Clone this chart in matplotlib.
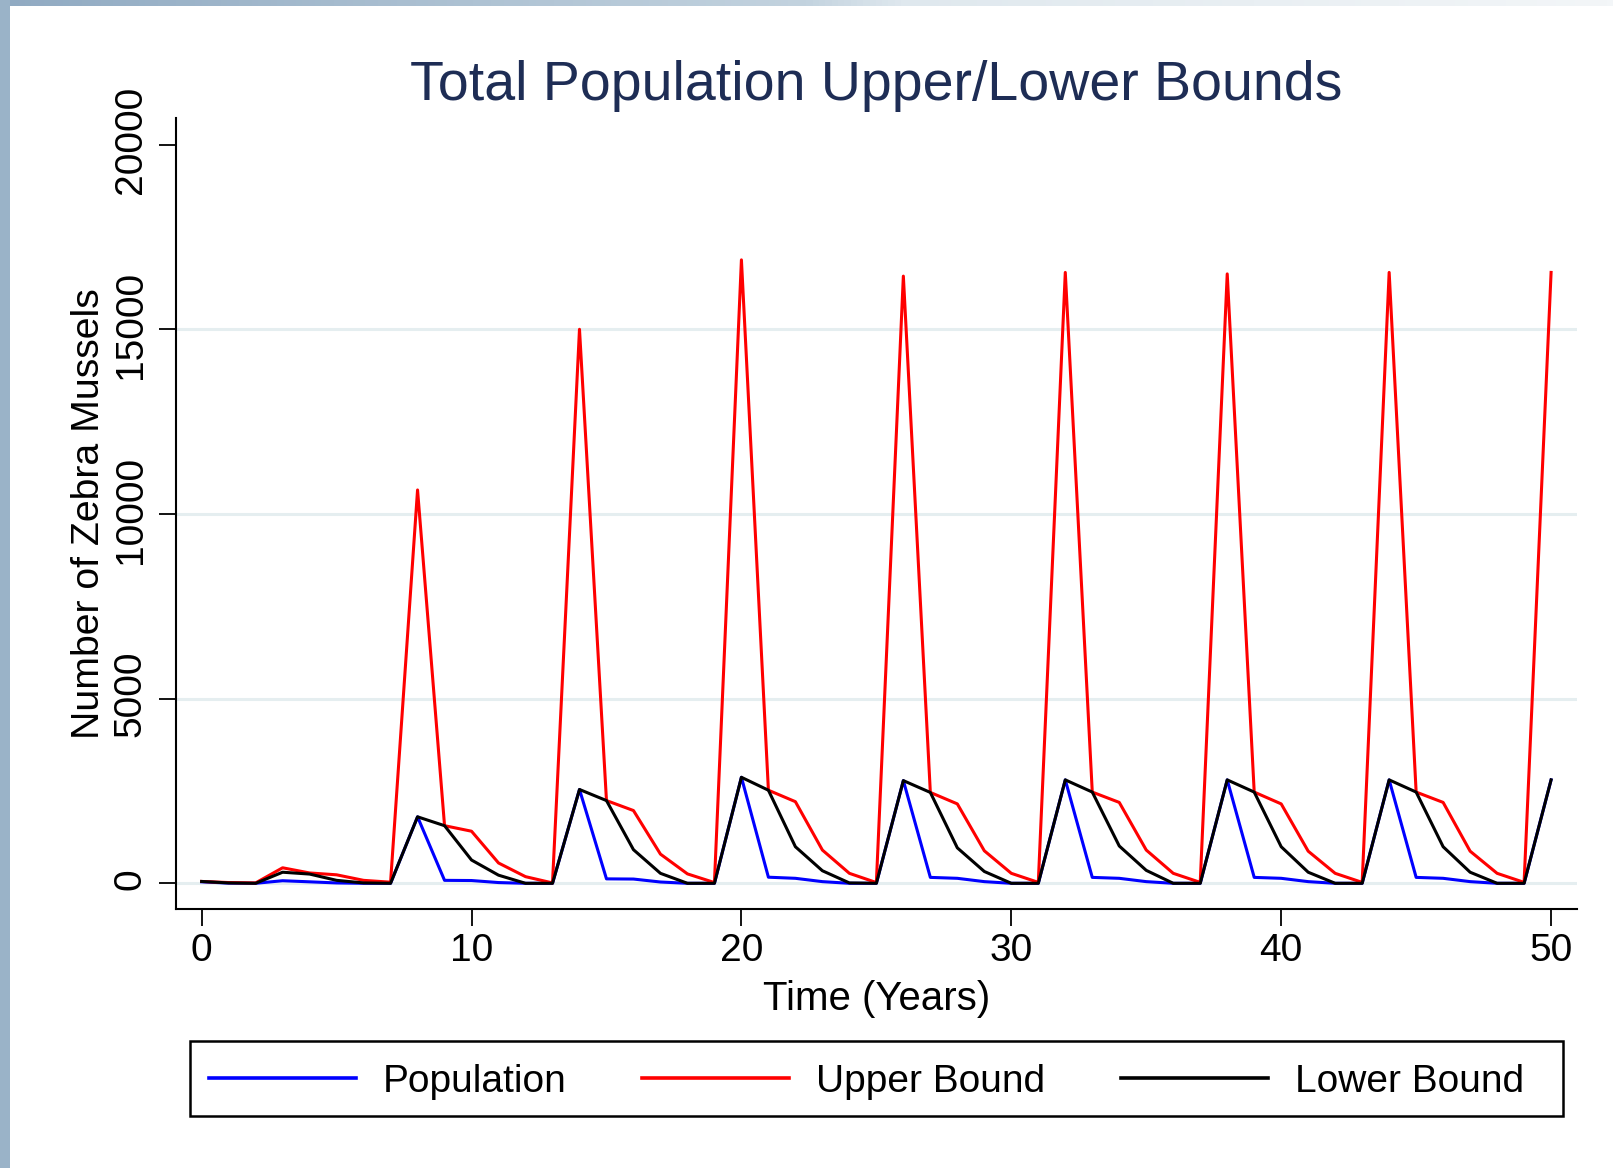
import numpy as np
import matplotlib
matplotlib.use("Agg")
import matplotlib.pyplot as plt
import matplotlib.transforms as mtransforms
from matplotlib.patches import Rectangle
from matplotlib.colors import LinearSegmentedColormap

# ---------------- data ----------------
years = list(range(0, 51))

population = [40, 5, 0, 70, 40, 10, 0, 0,
              1800, 80, 75, 20, 0, 0,
              2540, 120, 115, 35, 0, 0,
              2870, 165, 135, 45, 0, 0,
              2780, 160, 135, 45, 0, 0,
              2800, 160, 135, 45, 0, 0,
              2800, 160, 135, 45, 0, 0,
              2800, 160, 135, 45, 0, 0,
              2800]

upper_bound = [50, 20, 10, 420, 280, 230, 80, 30,
               10650, 1560, 1410, 550, 180, 10,
               15000, 2240, 1970, 790, 255, 20,
               16880, 2520, 2210, 900, 270, 20,
               16440, 2460, 2150, 880, 270, 25,
               16540, 2470, 2190, 900, 270, 25,
               16500, 2470, 2150, 870, 270, 25,
               16540, 2470, 2190, 870, 270, 25,
               16540]

lower_bound = [50, 10, 0, 300, 250, 80, 10, 0,
               1800, 1560, 630, 220, 0, 0,
               2540, 2240, 910, 270, 0, 0,
               2870, 2520, 990, 340, 10, 0,
               2780, 2460, 960, 320, 0, 0,
               2800, 2470, 1010, 350, 0, 0,
               2800, 2470, 990, 300, 0, 0,
               2800, 2470, 990, 300, 0, 0,
               2800]

x_ticks = [0, 10, 20, 30, 40, 50]
y_ticks = [0, 5000, 10000, 15000, 20000]
grid_values = [0, 5000, 10000, 15000]
series_labels = ["Population", "Upper Bound", "Lower Bound"]
series_colors = ["#0000ff", "#ff0000", "#000000"]
title_text = "Total Population Upper/Lower Bounds"
x_label = "Time (Years)"
y_label = "Number of Zebra Mussels"

# ---------------- style ----------------
plt.rcParams["font.family"] = ["Liberation Sans", "DejaVu Sans"]

W, H = 1613, 1168
fig = plt.figure(figsize=(W / 100, H / 100), dpi=100)
fig.patch.set_facecolor("white")

# decorative slide frame (left band + top gradient strip)
fig.patches.append(Rectangle((0, 0), 10 / W, 1, transform=fig.transFigure,
                             facecolor="#9ab3c8", edgecolor="none", zorder=-5))
top = fig.add_axes([0, 1 - 6 / H, 1, 6 / H], zorder=-5)
grad_cmap = LinearSegmentedColormap.from_list(
    "band", [(0.0, "#90aac2"), (0.5, "#c3d3df"), (0.56, "#dfe8ee"), (1.0, "#f3f6f8")])
top.imshow(np.linspace(0, 1, 512)[None, :], aspect="auto", cmap=grad_cmap,
           extent=[0, 1, 0, 1])
top.axis("off")

# ---------------- axes ----------------
ax_left, ax_right = 176, 1577
ax_top, ax_bottom = 118.3, 909.3
ax = fig.add_axes([ax_left / W, 1 - ax_bottom / H,
                   (ax_right - ax_left) / W, (ax_bottom - ax_top) / H])
ax.set_facecolor("white")

for v in grid_values:
    ax.axhline(v, color="#e5eef0", lw=2.2, zorder=0)

series = [population, upper_bound, lower_bound]
for vals, col, lab in zip(series, series_colors, series_labels):
    ax.plot(years, vals, color=col, lw=2.2, label=lab, zorder=2)

ax.set_xlim(-0.95, 50.96)
ax.set_ylim(-704, 20713)
ax.set_xticks(x_ticks)
ax.set_yticks(y_ticks)
ax.set_xticklabels([str(t) for t in x_ticks])
ax.set_yticklabels([str(t) for t in y_ticks])

for s in ["top", "right"]:
    ax.spines[s].set_visible(False)
for s in ["left", "bottom"]:
    ax.spines[s].set_linewidth(1.5)
    ax.spines[s].set_color("black")

ax.tick_params(axis="x", length=12, width=1.3, pad=5, labelsize=28, colors="black")
ax.tick_params(axis="y", length=12, width=1.3, pad=7.5, labelsize=28, colors="black",
               labelrotation=90)
shift_up = mtransforms.ScaledTranslation(0, 4.5 / 100, fig.dpi_scale_trans)
for lab in ax.get_yticklabels():
    lab.set_va("center")
    lab.set_ha("right")
    lab.set_transform(lab.get_transform() + shift_up)

# ---------------- text ----------------
cx = (ax_left + ax_right) / 2 / W
fig.text(cx, 1 - 100 / H, title_text, ha="center", va="baseline",
         fontsize=40, color="#1e2d55")
fig.text(cx, 1 - 1010 / H, x_label, ha="center", va="baseline", fontsize=29)
fig.text(89 / W, 1 - (ax_top + ax_bottom) / 2 / H, y_label, rotation=90,
         ha="center", va="center", fontsize=28.3)

# ---------------- legend ----------------
handles, labels = ax.get_legend_handles_labels()
leg = fig.legend(handles, labels, loc="center left",
                 bbox_to_anchor=(208.8 / W, 1 - 1081.5 / H),
                 ncol=3, fontsize=28, handlelength=3.78, handletextpad=0.70,
                 columnspacing=1.94, borderpad=0.0, borderaxespad=0.0,
                 frameon=False)
for l in leg.get_lines():
    l.set_linewidth(2.6)

# legend frame box
fig.patches.append(Rectangle((189.5 / W, 1 - 1116 / H), (1562.6 - 189.5) / W,
                             (1116 - 1040.5) / H, transform=fig.transFigure,
                             facecolor="none", edgecolor="black", lw=1.8, zorder=3))

fig.savefig("out.png", dpi=100, facecolor="white")
